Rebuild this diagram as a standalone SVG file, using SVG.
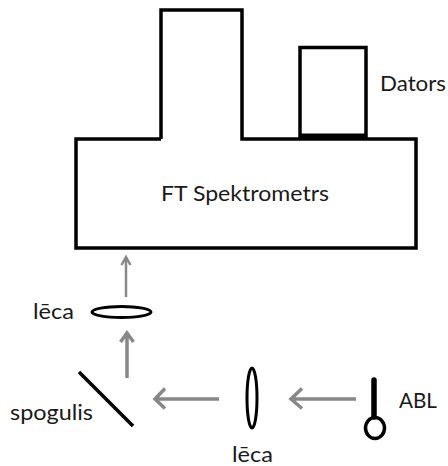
<svg xmlns="http://www.w3.org/2000/svg" width="448" height="466" viewBox="0 0 448 466">
<style>
text{font-family:"Lato","Open Sans","Liberation Sans",sans-serif;font-size:21.500px;fill:#1a1a1a}
.k{fill:none;stroke:#000;stroke-width:3.5}
.l{stroke-width:3}
.a{fill:none;stroke:#888;stroke-width:3.500}
.t{stroke-width:2.500}
</style>
<rect width="448" height="466" fill="#fff"/>
<g id="spektrometrs">
<path class="k" d="M161 139H76V248H416V139H242V10H161V139"/>
<text x="161" y="201" textLength="168" lengthAdjust="spacingAndGlyphs">FT Spektrometrs</text>
</g>
<g id="dators">
<rect class="k" x="300" y="47.500" width="66" height="89.500"/>
<path d="M300 135.500H366" stroke="#000" stroke-width="4"/>
<text x="380" y="91" textLength="66" lengthAdjust="spacingAndGlyphs">Dators</text>
</g>
<g id="leca1">
<ellipse class="k l" cx="121.500" cy="312" rx="29.500" ry="5.500"/>
<text x="33" y="319" textLength="41" lengthAdjust="spacingAndGlyphs">lēca</text>
</g>
<g id="spogulis">
<path d="M79 372L133 426" stroke="#000" stroke-width="3.500" fill="none"/>
<text x="10" y="420" textLength="83" lengthAdjust="spacingAndGlyphs">spogulis</text>
</g>
<g id="leca2">
<ellipse class="k l" cx="252" cy="398" rx="5" ry="30"/>
<text x="232" y="462" textLength="41" lengthAdjust="spacingAndGlyphs">lēca</text>
</g>
<g id="abl">
<path d="M374 380V417" stroke="#000" stroke-width="5.500" stroke-linecap="round" fill="none"/>
<ellipse class="k" cx="375" cy="428" rx="9.500" ry="10.500"/>
<text x="399" y="408" textLength="38" lengthAdjust="spacingAndGlyphs">ABL</text>
</g>
<g id="connectors">
<path class="a t" d="M126 297V257M121.500 265L126 257L130.500 265"/>
<path class="a" d="M127 378V333M120.500 342L127 333L133.500 342"/>
<path class="a" d="M219 399H155M165 388.500L155 399L165 408.500"/>
<path class="a" d="M356 399H291M302 388.500L291 399L302 408.500"/>
</g>
</svg>
